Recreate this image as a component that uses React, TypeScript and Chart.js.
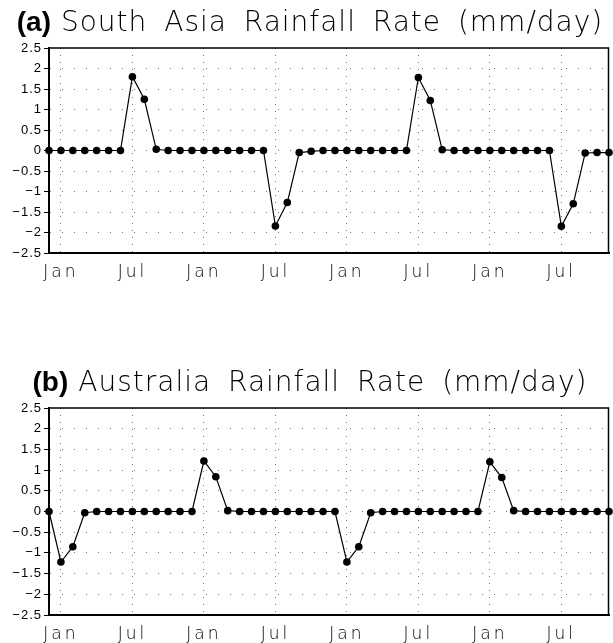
import React, { useEffect, useRef } from "react";
import { Chart, registerables } from "chart.js";

Chart.register(...registerables);

const months = [
  "Dec", "Jan", "Feb", "Mar", "Apr", "May", "Jun", "Jul", "Aug", "Sep", "Oct", "Nov",
  "Dec", "Jan", "Feb", "Mar", "Apr", "May", "Jun", "Jul", "Aug", "Sep", "Oct", "Nov",
  "Dec", "Jan", "Feb", "Mar", "Apr", "May", "Jun", "Jul", "Aug", "Sep", "Oct", "Nov",
  "Dec", "Jan", "Feb", "Mar", "Apr", "May", "Jun", "Jul", "Aug", "Sep", "Oct", "Nov",
];

const shownMonths = ["Jan", "Jul"];

const southAsia = [
  0, 0, 0, 0, 0, 0, 0, 1.8, 1.25, 0.03, 0, 0,
  0, 0, 0, 0, 0, 0, 0, -1.84, -1.27, -0.05, -0.02, 0,
  0, 0, 0, 0, 0, 0, 0, 1.78, 1.22, 0.02, 0, 0,
  0, 0, 0, 0, 0, 0, 0, -1.85, -1.3, -0.06, -0.05, -0.05,
];

const australia = [
  0, -1.22, -0.85, -0.03, 0, 0, 0, 0, 0, 0, 0, 0,
  0, 1.22, 0.84, 0.02, 0, 0, 0, 0, 0, 0, 0, 0,
  0, -1.22, -0.85, -0.03, 0, 0, 0, 0, 0, 0, 0, 0,
  0, 1.2, 0.82, 0.02, 0, 0, 0, 0, 0, 0, 0, 0,
];

const yMin = -2.5;
const yMax = 2.5;
const yStep = 0.5;

const THIN_FONT = '"DejaVu Sans"';

const panelPlugin = {
  id: "panelDecor",
  beforeDraw(chart: any) {
    chart.ctx.letterSpacing = "1px";
  },
  beforeDatasetsDraw(chart: any) {
    const { ctx, chartArea } = chart;
    ctx.save();
    ctx.strokeStyle = "#000";
    ctx.lineWidth = 1.5;
    ctx.beginPath();
    ctx.moveTo(chartArea.left, chartArea.top);
    ctx.lineTo(chartArea.right - 0.5, chartArea.top);
    ctx.lineTo(chartArea.right - 0.5, chartArea.bottom);
    ctx.stroke();
    ctx.restore();
  },
  afterDatasetsDraw(chart: any) {
    chart.ctx.letterSpacing = "3px";
  },
  afterDraw(chart: any, _args: any, opts: any) {
    const ctx = chart.ctx;
    ctx.save();
    ctx.fillStyle = "#000";
    ctx.textBaseline = "alphabetic";
    ctx.textAlign = "left";
    ctx.letterSpacing = "0px";
    ctx.wordSpacing = "0px";
    ctx.font = 'bold 28px "Liberation Sans"';
    const w1 = ctx.measureText(opts.tag).width;
    ctx.font = "200 28px " + THIN_FONT;
    ctx.letterSpacing = "1px";
    ctx.wordSpacing = "7px";
    const w2 = ctx.measureText(opts.text).width;
    const gap = 10;
    const x0 = opts.centerX - (w1 + gap + w2) / 2;
    ctx.letterSpacing = "0px";
    ctx.wordSpacing = "0px";
    ctx.font = 'bold 28px "Liberation Sans"';
    ctx.fillText(opts.tag, x0, opts.baseline);
    ctx.font = "200 28px " + THIN_FONT;
    ctx.letterSpacing = "1px";
    ctx.wordSpacing = "7px";
    ctx.fillText(opts.text, x0 + w1 + gap, opts.baseline);
    ctx.restore();
    ctx.letterSpacing = "0px";
  },
};

function fmtY(v: number) {
  if (v === 0) return "0";
  const s = String(Math.abs(v));
  return v < 0 ? "\u2212" + s : s;
}

function makeChart(canvas: HTMLCanvasElement, values: number[], tag: string, text: string, padTop: number, xHeight: number, baseline: number) {
  return new Chart(canvas, {
    type: "line",
    data: {
      labels: months,
      datasets: [
        {
          data: values,
          borderColor: "#000",
          borderWidth: 1.2,
          backgroundColor: "#000",
          pointBackgroundColor: "#000",
          pointBorderWidth: 0,
          pointRadius: 3.8,
          tension: 0,
          clip: false as any,
        },
      ],
    },
    options: {
      animation: false,
      responsive: false,
      events: [],
      layout: { padding: { top: padTop, right: 1, left: 0, bottom: 0 } },
      plugins: {
        legend: { display: false },
        tooltip: { enabled: false },
        title: { display: false },
        panelDecor: { tag, text, baseline, centerX: 310 },
      } as any,
      scales: {
        x: {
          type: "category",
          offset: false,
          afterFit: (s: any) => {
            s.height = xHeight;
          },
          grid: {
            drawTicks: false,
            color: "#777",
            lineWidth: 1,
          } as any,
          border: { display: true, color: "#000", width: 2, dash: [1, 6] },
          ticks: {
            autoSkip: false,
            maxRotation: 0,
            padding: 9,
            color: "#000",
            z: 1,
            font: { family: THIN_FONT, size: 17, weight: 200 as any },
            callback: (_v: any, i: number) => (shownMonths.includes(months[i]) ? months[i] : null),
          },
        },
        y: {
          min: yMin,
          max: yMax,
          afterFit: (s: any) => {
            s.width = 49;
          },
          grid: {
            drawTicks: true,
            tickLength: 5,
            tickColor: "#000",
            tickWidth: 1,
            lineWidth: 1,
            color: (c: any) => (c.tick && (c.tick.value === yMax || c.tick.value === yMin) ? "rgba(0,0,0,0)" : "#777"),
          } as any,
          border: { display: true, color: "#000", width: 2, dash: [1, 11] },
          ticks: {
            stepSize: yStep,
            padding: 2,
            color: "#000",
            font: { family: '"Liberation Sans"', size: 13 },
            callback: (v: any) => fmtY(Number(v)),
          },
        },
      },
    },
    plugins: [panelPlugin as any],
  });
}

export default function App() {
  const refA = useRef<HTMLCanvasElement>(null);
  const refB = useRef<HTMLCanvasElement>(null);

  useEffect(() => {
    const a = makeChart(refA.current!, southAsia, "(a)", "South Asia Rainfall Rate (mm/day)", 48, 68, 31);
    const b = makeChart(refB.current!, australia, "(b)", "Australia Rainfall Rate (mm/day)", 87, 28, 70);
    return () => {
      a.destroy();
      b.destroy();
    };
  }, []);

  return (
    <div style={{ position: "absolute", left: 0, top: 0, width: 613, height: 643, background: "#fff" }}>
      <canvas ref={refA} width={613} height={321} style={{ display: "block" }} />
      <canvas ref={refB} width={613} height={322} style={{ display: "block" }} />
    </div>
  );
}
